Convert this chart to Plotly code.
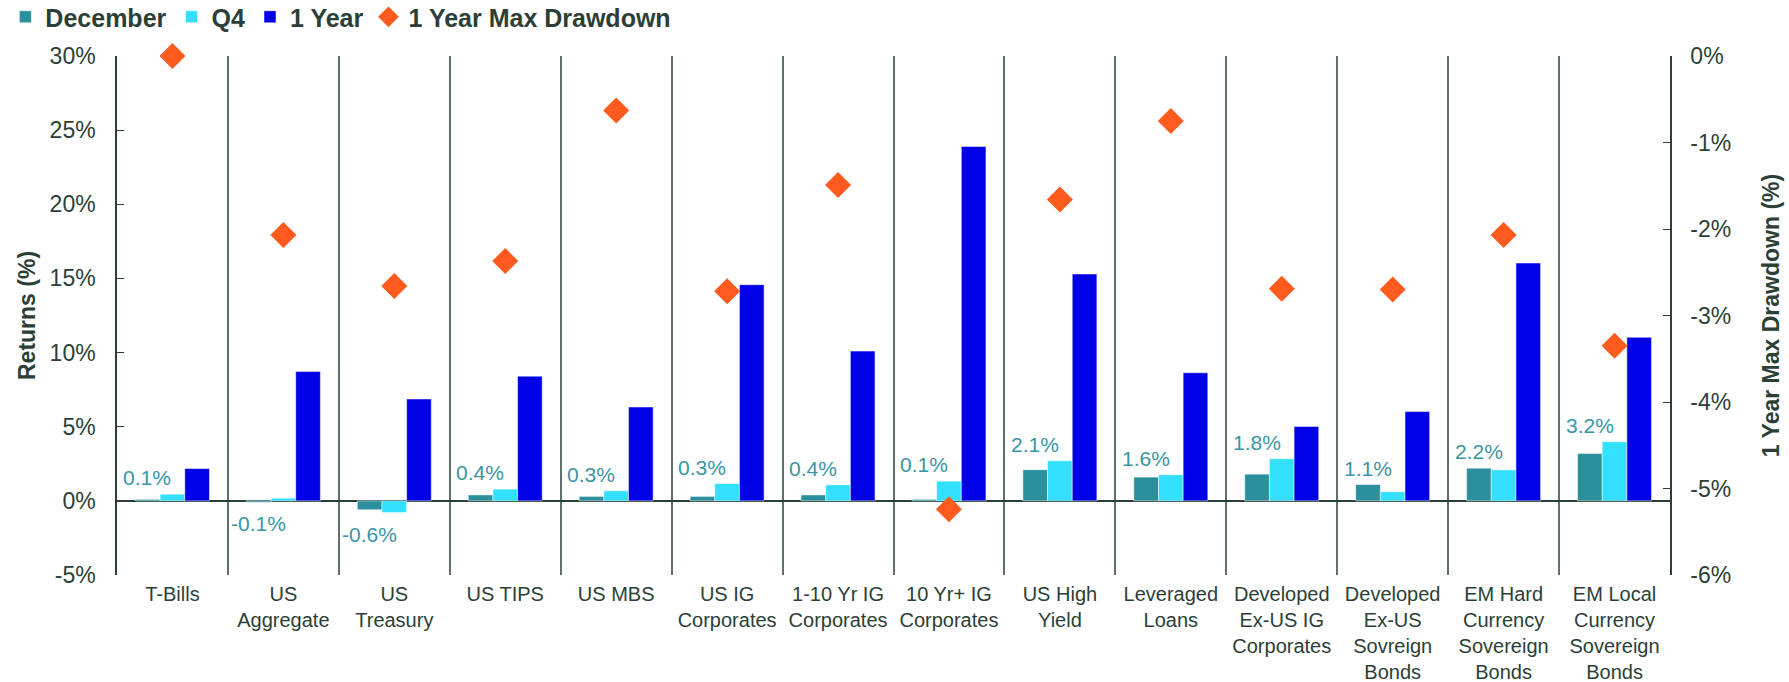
import plotly.graph_objects as go


# Data

categories = [
    "T-Bills",
    "US<br>Aggregate",
    "US<br>Treasury",
    "US TIPS",
    "US MBS",
    "US IG<br>Corporates",
    "1-10 Yr IG<br>Corporates",
    "10 Yr+ IG<br>Corporates",
    "US High<br>Yield",
    "Leveraged<br>Loans",
    "Developed<br>Ex-US IG<br>Corporates",
    "Developed<br>Ex-US<br>Sovreign<br>Bonds",
    "EM Hard<br>Currency<br>Sovereign<br>Bonds",
    "EM Local<br>Currency<br>Sovereign<br>Bonds",
]

december = [0.1, -0.1, -0.6, 0.4, 0.3, 0.3, 0.4, 0.1, 2.1, 1.6, 1.8, 1.1, 2.2, 3.2]

q4 = [0.45, 0.18, -0.79, 0.79, 0.68, 1.17, 1.08, 1.33, 2.7, 1.76, 2.84, 0.61, 2.09, 3.99]

one_year = [2.18, 8.72, 6.87, 8.41, 6.33, 14.58, 10.1, 23.9, 15.3, 8.64, 5.02, 6.02, 16.04, 11.03]

max_drawdown = [0.0, -2.07, -2.66, -2.37, -0.63, -2.72, -1.49, -5.24, -1.66, -0.75, -2.69, -2.70, -2.07, -3.35]

returns_ticks = [-5, 0, 5, 10, 15, 20, 25, 30]
drawdown_ticks = [-6, -5, -4, -3, -2, -1, 0]


# Style

FONT = "Liberation Sans"
TEXT = "#2B3F37"
LABEL = "#3A95A6"

C_DEC = "#2B8F9C"
C_Q4 = "#33E0FF"
C_1Y = "#0000E6"
C_DD = "#FF5B1E"


fig = go.Figure()

fig.add_trace(go.Bar(name="December", x=categories, y=december, marker_color=C_DEC))
fig.add_trace(go.Bar(name="Q4", x=categories, y=q4, marker_color=C_Q4))
fig.add_trace(go.Bar(name="1 Year", x=categories, y=one_year, marker_color=C_1Y))

fig.add_trace(
    go.Scatter(
        name="1 Year Max Drawdown",
        x=categories,
        y=max_drawdown,
        yaxis="y2",
        mode="markers",
        marker=dict(symbol="diamond", size=20, color=C_DD),
        cliponaxis=False,
    )
)


# December data labels, sitting above (or below) the December/Q4 pair

for cat, d, q in zip(categories, december, q4):
    if d >= 0:
        fig.add_annotation(
            x=cat, y=max(d, q), xref="x", yref="y",
            text=f"{d:.1f}%", showarrow=False,
            xshift=-25, yshift=3, yanchor="bottom",
            font=dict(family=FONT, size=21, color=LABEL),
        )
    else:
        fig.add_annotation(
            x=cat, y=min(d, q), xref="x", yref="y",
            text=f"{d:.1f}%", showarrow=False,
            xshift=-25, yshift=-8, yanchor="top",
            font=dict(family=FONT, size=21, color=LABEL),
        )


fig.update_layout(
    width=1789,
    height=682,
    autosize=False,
    template="plotly_white",
    paper_bgcolor="white",
    plot_bgcolor="white",
    margin=dict(l=117, r=119, t=56, b=107),
    barmode="group",
    bargap=0.333,
    bargroupgap=0,
    font=dict(family=FONT, size=23, color=TEXT),
    showlegend=True,
    legend=dict(
        orientation="h",
        xref="container", yref="container",
        x=0.003, y=0.975, xanchor="left", yanchor="middle",
        font=dict(family=FONT, size=25, color=TEXT, weight="bold"),
        itemwidth=30,
        tracegroupgap=0,
        bgcolor="rgba(0,0,0,0)",
    ),
    xaxis=dict(
        type="category",
        range=[-0.5, len(categories) - 0.5],
        tickson="boundaries",
        tickangle=0,
        showgrid=True,
        gridcolor="#5F6F69",
        gridwidth=1.5,
        showline=False,
        ticks="",
        zeroline=False,
        automargin=False,
        tickfont=dict(family=FONT, size=20, color=TEXT),
        ticklabelstandoff=5,
    ),
    yaxis=dict(
        range=[-5, 30],
        tickvals=returns_ticks,
        ticktext=[f"{v}%" for v in returns_ticks],
        showgrid=False,
        zeroline=True,
        zerolinecolor=TEXT,
        zerolinewidth=1.5,
        showline=True,
        linecolor=TEXT,
        linewidth=1.5,
        ticks="inside",
        ticklen=7,
        tickcolor=TEXT,
        ticklabelstandoff=15,
        automargin=False,
        title=dict(
            text="Returns (%)",
            font=dict(family=FONT, size=23, color=TEXT, weight="bold"),
            standoff=8,
        ),
    ),
    yaxis2=dict(
        overlaying="y",
        side="right",
        range=[-6, 0],
        tickvals=drawdown_ticks,
        ticktext=[f"{v}%" for v in drawdown_ticks],
        showgrid=False,
        zeroline=False,
        showline=True,
        linecolor=TEXT,
        linewidth=1.5,
        ticks="inside",
        ticklen=7,
        tickcolor=TEXT,
        ticklabelstandoff=14,
        automargin=False,
        title=dict(
            text="1 Year Max Drawdown (%)",
            font=dict(family=FONT, size=23, color=TEXT, weight="bold"),
            standoff=33,
        ),
    ),
)

# page body has a default 8px margin; drop it so the figure fills the window
fig.write_html(
    "out.html",
    config={"displayModeBar": False},
    post_script="document.body.style.margin='0';",
)
